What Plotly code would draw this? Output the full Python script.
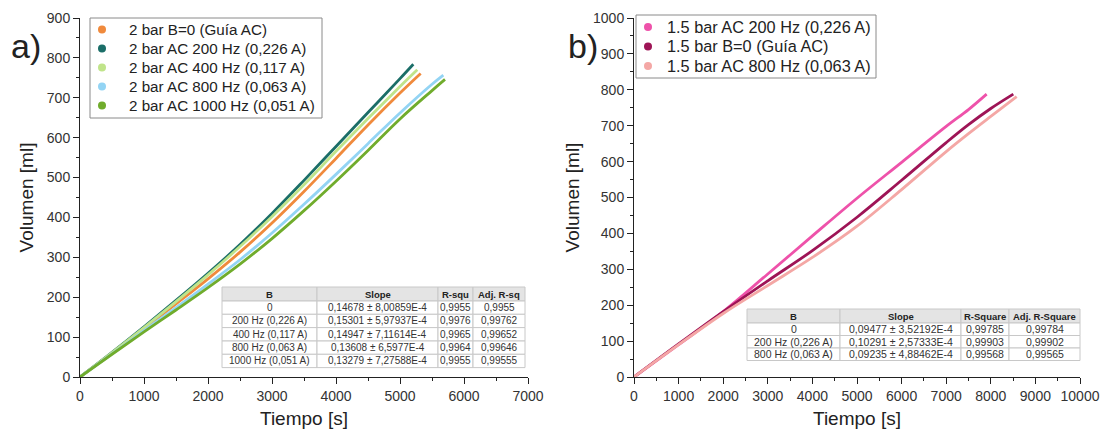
import plotly.graph_objects as go

W, H = 1104, 438
FONT = "Liberation Sans, Arial, sans-serif"

# ---------------- data: panel a (2 bar) ----------------
t_a_b0 = [0, 500, 1000, 1500, 2000, 2500, 3000, 3500, 4000, 4500, 5000, 5323]
v_a_b0 = [0, 60, 121, 183, 246, 313, 386, 465, 548, 632, 712, 761]
t_a_200 = [0, 500, 1000, 1500, 2000, 2500, 3000, 3500, 4000, 4500, 5000, 5208]
v_a_200 = [0, 62, 126, 192, 260, 332, 410, 493, 578, 663, 748, 784]
t_a_400 = [0, 500, 1000, 1500, 2000, 2500, 3000, 3500, 4000, 4500, 5000, 5270]
v_a_400 = [0, 61, 124, 189, 256, 327, 402, 482, 566, 648, 728, 770]
t_a_800 = [0, 500, 1000, 1500, 2000, 2500, 3000, 3500, 4000, 4500, 5000, 5500, 5677]
v_a_800 = [0, 58, 116, 174, 233, 294, 361, 433, 508, 585, 662, 734, 757]
t_a_1000 = [0, 500, 1000, 1500, 2000, 2500, 3000, 3500, 4000, 4500, 5000, 5500, 5703]
v_a_1000 = [0, 57, 113, 168, 224, 283, 347, 417, 491, 568, 647, 718, 746]

names_a = ["2 bar B=0 (Guía AC)", "2 bar AC 200 Hz (0,226 A)", "2 bar AC 400 Hz (0,117 A)",
           "2 bar AC 800 Hz (0,063 A)", "2 bar AC 1000 Hz (0,051 A)"]
colors_a = ["#F08A3C", "#1B6E68", "#C0E48A", "#93D4F4", "#70AC2C"]

# ---------------- data: panel b (1.5 bar) ----------------
t_b_200 = [0, 1000, 2000, 3000, 4000, 5000, 6000, 7000, 7500, 7907]
v_b_200 = [0, 90, 182, 287, 393, 498, 598, 698, 745, 788]
t_b_b0 = [0, 1000, 2000, 3000, 4000, 5000, 6000, 7000, 7500, 8000, 8505]
v_b_b0 = [0, 92, 182, 268, 352, 445, 548, 653, 703, 748, 788]
t_b_800 = [0, 1000, 2000, 3000, 4000, 5000, 6000, 7000, 7500, 8000, 8580]
v_b_800 = [0, 90, 177, 255, 333, 420, 522, 628, 678, 726, 781]

names_b = ["1.5 bar AC 200 Hz (0,226 A)", "1.5 bar B=0 (Guía AC)", "1.5 bar AC 800 Hz (0,063 A)"]
colors_b = ["#EE52AA", "#9E1456", "#F4A7A5"]

# ---------------- tables ----------------
tab_a_header = ["B", "Slope", "R-squ", "Adj. R-sq"]
tab_a_B = ["0", "200 Hz (0,226 A)", "400 Hz (0,117 A)", "800 Hz (0,063 A)", "1000 Hz (0,051 A)"]
tab_a_slope = ["0,14678 ± 8,00859E-4", "0,15301 ± 5,97937E-4", "0,14947 ± 7,11614E-4",
               "0,13608 ± 6,5977E-4", "0,13279 ± 7,27588E-4"]
tab_a_r2 = ["0,9955", "0,9976", "0,9965", "0,9964", "0,9955"]
tab_a_adj = ["0,9955", "0,99762", "0,99652", "0,99646", "0,99555"]

tab_b_header = ["B", "Slope", "R-Square", "Adj. R-Square"]
tab_b_B = ["0", "200 Hz (0,226 A)", "800 Hz (0,063 A)"]
tab_b_slope = ["0,09477 ± 3,52192E-4", "0,10291 ± 2,57333E-4", "0,09235 ± 4,88462E-4"]
tab_b_r2 = ["0,99785", "0,99903", "0,99568"]
tab_b_adj = ["0,99784", "0,99902", "0,99565"]


def px_x(p):
    return p / W


def px_y(p):
    return 1 - p / H


fig = go.Figure()

series_a = [(t_a_b0, v_a_b0), (t_a_200, v_a_200), (t_a_400, v_a_400),
            (t_a_800, v_a_800), (t_a_1000, v_a_1000)]
for (t, v), name, c in zip(series_a, names_a, colors_a):
    fig.add_trace(go.Scatter(x=t, y=v, mode="lines", name=name,
                             line=dict(color=c, width=2.8, shape="spline"),
                             showlegend=False, xaxis="x", yaxis="y", hoverinfo="skip"))

series_b = [(t_b_200, v_b_200), (t_b_b0, v_b_b0), (t_b_800, v_b_800)]
for (t, v), name, c in zip(series_b, names_b, colors_b):
    fig.add_trace(go.Scatter(x=t, y=v, mode="lines", name=name,
                             line=dict(color=c, width=2.8, shape="spline"),
                             showlegend=False, xaxis="x2", yaxis="y2", hoverinfo="skip"))

shapes = []
annotations = []
LINE_COL = "#C8C8C8"


def draw_table(xb, yb, header, columns, head_size, cell_size):
    nrows = len(yb) - 1
    for r in range(nrows):
        for c in range(len(xb) - 1):
            shapes.append(dict(type="rect", xref="paper", yref="paper", layer="above",
                               x0=px_x(xb[c]), x1=px_x(xb[c + 1]), y0=px_y(yb[r + 1]), y1=px_y(yb[r]),
                               fillcolor="#E4E4E4" if r == 0 else "white",
                               line=dict(color=LINE_COL, width=1)))
            if r == 0:
                txt, fs, col = "<b>%s</b>" % header[c], head_size, "#222"
            else:
                txt, fs, col = columns[c][r - 1], cell_size, "#333"
            annotations.append(dict(text=txt, xref="paper", yref="paper", showarrow=False,
                                    x=px_x((xb[c] + xb[c + 1]) / 2), y=px_y((yb[r] + yb[r + 1]) / 2),
                                    xanchor="center", yanchor="middle",
                                    font=dict(family=FONT, size=fs, color=col)))


def draw_legend(box, names, colors, row0, step, mx, tx, fs):
    x0, y0, x1, y1 = box
    shapes.append(dict(type="rect", xref="paper", yref="paper", layer="above",
                       x0=px_x(x0), x1=px_x(x1), y0=px_y(y1), y1=px_y(y0),
                       fillcolor="white", line=dict(color="#8A8A8A", width=1)))
    for i, (n, c) in enumerate(zip(names, colors)):
        cy = row0 + i * step
        shapes.append(dict(type="circle", xref="paper", yref="paper", layer="above",
                           x0=px_x(mx - 4), x1=px_x(mx + 4), y0=px_y(cy + 4), y1=px_y(cy - 4),
                           fillcolor=c, line=dict(color=c, width=0)))
        annotations.append(dict(text=n, xref="paper", yref="paper", showarrow=False,
                                x=px_x(tx), y=px_y(cy), xanchor="left", yanchor="middle",
                                font=dict(family=FONT, size=fs, color="#222")))


draw_table([222, 317, 438, 473, 525], [287, 301, 314.3, 327.6, 341, 354.3, 367.6],
           tab_a_header, [tab_a_B, tab_a_slope, tab_a_r2, tab_a_adj], 9.5, 10)
draw_table([747, 840, 961, 1009, 1080], [309, 323, 335.5, 348, 360.5],
           tab_b_header, [tab_b_B, tab_b_slope, tab_b_r2, tab_b_adj], 9.5, 10.5)

draw_legend((90, 18, 322, 118), names_a, colors_a, 29.5, 19, 102, 127, 15.2)
draw_legend((636, 15, 876, 78), names_b, colors_b, 27, 19.5, 648, 665, 16.3)

annotations += [
    dict(text="a)", x=px_x(26), y=px_y(46), xref="paper", yref="paper", showarrow=False,
         xanchor="center", yanchor="middle", font=dict(family=FONT, size=34, color="#222")),
    dict(text="b)", x=px_x(583), y=px_y(46), xref="paper", yref="paper", showarrow=False,
         xanchor="center", yanchor="middle", font=dict(family=FONT, size=34, color="#222")),
]


def xax(domain, rng, dtick, anchor):
    return dict(domain=domain, range=rng, dtick=dtick, tick0=0, ticks="outside", ticklen=6, tickwidth=1,
                tickcolor="#222", showline=True, linecolor="#222", linewidth=1, showgrid=False,
                zeroline=False, tickformat="d", anchor=anchor,
                tickfont=dict(family=FONT, size=14, color="#333"),
                minor=dict(ticks="outside", ticklen=3, dtick=dtick / 2, tickcolor="#222", showgrid=False),
                title=dict(text="Tiempo [s]", font=dict(family=FONT, size=19, color="#222"), standoff=8),
                automargin=False, fixedrange=True)


def yax(domain, rng, anchor):
    return dict(domain=domain, range=rng, dtick=100, tick0=0, ticks="outside", ticklen=6, tickwidth=1,
                tickcolor="#222", showline=True, linecolor="#222", linewidth=1, showgrid=False,
                zeroline=False, tickformat="d", anchor=anchor,
                tickfont=dict(family=FONT, size=14, color="#333"),
                minor=dict(ticks="outside", ticklen=3, dtick=50, tickcolor="#222", showgrid=False),
                title=dict(text="Volumen [ml]", font=dict(family=FONT, size=19, color="#222"), standoff=8),
                automargin=False, fixedrange=True)


ydom = [px_y(377), px_y(18)]
fig.update_layout(
    width=W, height=H, margin=dict(l=0, r=0, t=0, b=0),
    paper_bgcolor="white", plot_bgcolor="white",
    font=dict(family=FONT, color="#222"),
    xaxis=xax([px_x(80), px_x(528)], [0, 7000], 1000, "y"),
    yaxis=yax(ydom, [0, 900], "x"),
    xaxis2=xax([px_x(634), px_x(1080)], [0, 10000], 1000, "y2"),
    yaxis2=yax(ydom, [0, 1000], "x2"),
    showlegend=False,
    shapes=shapes,
    annotations=annotations,
)

fig.write_html("out.html")
